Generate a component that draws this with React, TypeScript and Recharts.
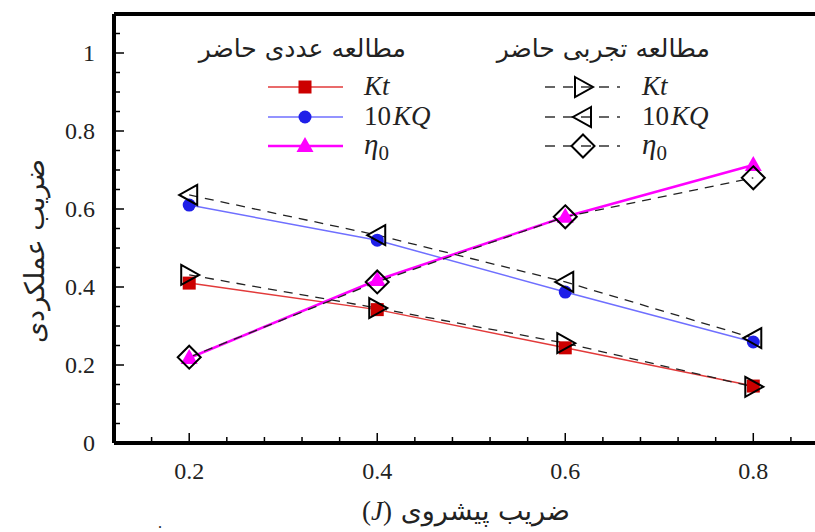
import React from 'react';
import { LineChart, Line, XAxis, YAxis, ReferenceLine, Customized } from 'recharts';

const advanceRatio = [0.2, 0.4, 0.6, 0.8];

// present numerical study
const ktNumerical = [0.41, 0.342, 0.244, 0.146];
const kq10Numerical = [0.61, 0.52, 0.387, 0.259];
const etaNumerical = [0.218, 0.418, 0.58, 0.713];

// present experimental study
const ktExperimental = [0.431, 0.346, 0.256, 0.144];
const kq10Experimental = [0.636, 0.533, 0.413, 0.269];
const etaExperimental = [0.22, 0.413, 0.58, 0.68];

const xTicks = [0.16, 0.2, 0.24, 0.28, 0.32, 0.36, 0.4, 0.44, 0.48, 0.52, 0.56, 0.6, 0.64, 0.68, 0.72, 0.76, 0.8, 0.84];
const xLabels = [0.2, 0.4, 0.6, 0.8];
const yTicks = [0, 0.05, 0.1, 0.15, 0.2, 0.25, 0.3, 0.35, 0.4, 0.45, 0.5, 0.55, 0.6, 0.65, 0.7, 0.75, 0.8, 0.85, 0.9, 0.95, 1, 1.05];
const yLabels = [0, 0.2, 0.4, 0.6, 0.8, 1];

const xTitle = 'ضریب پیشروی';
const yTitle = 'ضریب عملکردی';
const numericalTitle = 'مطالعه عددی حاضر';
const experimentalTitle = 'مطالعه تجربی حاضر';

const data = advanceRatio.map((j, i) => ({
  j,
  ktNum: ktNumerical[i],
  kqNum: kq10Numerical[i],
  etaNum: etaNumerical[i],
  ktExp: ktExperimental[i],
  kqExp: kq10Experimental[i],
  etaExp: etaExperimental[i],
}));

const SERIF = '"Liberation Serif", "Times New Roman", serif';
const ARABIC = '"DejaVu Sans", "Noto Sans", sans-serif';

const RED = '#e23a3a';
const RED_MARK = '#cc0000';
const BLUE = '#6f6fff';
const BLUE_MARK = '#1f1fe8';
const MAGENTA = '#ff00ff';

const isLabel = (v: number, labels: number[]) => labels.some((l) => Math.abs(l - v) < 1e-6);

// markers
const Square = ({ cx, cy }: any) => <rect x={cx - 6.5} y={cy - 6.5} width={13} height={13} fill={RED_MARK} />;
const Circle = ({ cx, cy }: any) => <circle cx={cx} cy={cy} r={6.5} fill={BLUE_MARK} />;
const TriUp = ({ cx, cy }: any) => (
  <path d={`M${cx},${cy - 9}L${cx + 8.5},${cy + 6}L${cx - 8.5},${cy + 6}Z`} fill={MAGENTA} />
);
const TriRight = ({ cx, cy }: any) => (
  <path d={`M${cx - 8},${cy - 10}L${cx + 10},${cy}L${cx - 8},${cy + 10}Z`} fill="none" stroke="#000" strokeWidth={2} />
);
const TriLeft = ({ cx, cy }: any) => (
  <path d={`M${cx + 8},${cy - 10}L${cx - 10},${cy}L${cx + 8},${cy + 10}Z`} fill="none" stroke="#000" strokeWidth={2} />
);
const Diamond = ({ cx, cy }: any) => (
  <path d={`M${cx},${cy - 11.5}L${cx + 11.5},${cy}L${cx},${cy + 11.5}L${cx - 11.5},${cy}Z`} fill="none" stroke="#000" strokeWidth={2} />
);

const dotOf = (Shape: any) => (p: any) => <Shape key={`${p.dataKey}-${p.index}`} cx={p.cx} cy={p.cy} />;

const XTick = ({ x, y, payload }: any) => {
  const major = isLabel(payload.value, xLabels);
  return (
    <g>
      <line x1={x} x2={x} y1={y} y2={y - (major ? 10 : 6)} stroke="#000" strokeWidth={1.5} />
      {major && (
        <text x={x} y={y + 36} textAnchor="middle" fontFamily={SERIF} fontSize={24} fill="#222">
          {payload.value}
        </text>
      )}
    </g>
  );
};

const YTick = ({ x, y, payload }: any) => {
  const major = isLabel(payload.value, yLabels);
  return (
    <g>
      {payload.value > 0 && (
        <line x1={x} x2={x + (major ? 10 : 6)} y1={y} y2={y} stroke="#000" strokeWidth={1.5} />
      )}
      {major && (
        <text x={x - 19} y={y + 8} textAnchor="end" fontFamily={SERIF} fontSize={24} fill="#222">
          {payload.value}
        </text>
      )}
    </g>
  );
};

const MathLabel = ({ x, y, kind }: { x: number; y: number; kind: string }) => {
  if (kind === 'kt')
    return (
      <text x={x} y={y} fontFamily={SERIF} fontSize={27} fontStyle="italic" fill="#222">
        Kt
      </text>
    );
  if (kind === 'kq')
    return (
      <text x={x} y={y} fontFamily={SERIF} fontSize={27} fill="#222">
        10<tspan fontStyle="italic" dx={2}>KQ</tspan>
      </text>
    );
  return (
    <text x={x} y={y} fontFamily={SERIF} fontSize={29} fill="#222">
      <tspan fontStyle="italic">η</tspan>
      <tspan fontSize={21} dy={6}>0</tspan>
    </text>
  );
};

const LegendBlock = () => {
  const rows = [87, 117, 146];
  const kinds = ['kt', 'kq', 'eta'];
  const solid = [
    { color: RED, width: 1.5, Shape: Square },
    { color: BLUE, width: 1.5, Shape: Circle },
    { color: MAGENTA, width: 2.5, Shape: TriUp },
  ];
  const hollow = [TriRight, TriLeft, Diamond];
  return (
    <g>
      <text x={406} y={57} textAnchor="end" fontFamily={ARABIC} fontSize={25} fill="#222">
        {numericalTitle}
      </text>
      <text x={710} y={57} textAnchor="end" fontFamily={ARABIC} fontSize={25} fill="#222">
        {experimentalTitle}
      </text>
      {rows.map((ry, i) => {
        const S = solid[i];
        const H = hollow[i];
        return (
          <g key={i}>
            <line x1={268} x2={343} y1={ry} y2={ry} stroke={S.color} strokeWidth={S.width} />
            <S.Shape cx={305} cy={ry} />
            <MathLabel x={364} y={ry + 8} kind={kinds[i]} />
            <line x1={545} x2={620} y1={ry} y2={ry} stroke="#333" strokeWidth={1.5} strokeDasharray="10 8" />
            <H cx={583} cy={ry} />
            <MathLabel x={642} y={ry + 8} kind={kinds[i]} />
          </g>
        );
      })}
    </g>
  );
};

const Titles = () => (
  <g>
    <text x={466} y={520} textAnchor="middle" fontFamily={ARABIC} fontSize={27} fill="#222">
      <tspan fontFamily={SERIF}>(</tspan>
      <tspan fontFamily={SERIF} fontStyle="italic">J</tspan>
      <tspan fontFamily={SERIF}>)</tspan> {xTitle}
    </text>
    <text
      x={0}
      y={0}
      transform="translate(44,251) rotate(-90)"
      textAnchor="middle"
      fontFamily={ARABIC}
      fontSize={27}
      fill="#222"
    >
      {yTitle}
    </text>
    <text x={160} y={528} textAnchor="middle" fontFamily={SERIF} fontSize={16} fill="#222">
      .
    </text>
  </g>
);

export default function App() {
  return (
    <div style={{ position: 'absolute', left: 0, top: 0, width: 815, height: 532, overflow: 'hidden', background: '#fff' }}>
      <LineChart width={850} height={532} data={data} margin={{ top: 14, right: 21.5, bottom: 59, left: 54 }}>
        <XAxis
          dataKey="j"
          type="number"
          domain={[0.12, 0.88]}
          ticks={xTicks}
          interval={0}
          height={30}
          tickSize={0}
          tickMargin={0}
          tickLine={false}
          axisLine={{ stroke: '#000', strokeWidth: 4 }}
          tick={<XTick />}
          allowDataOverflow
        />
        <YAxis
          type="number"
          domain={[0, 1.1]}
          ticks={yTicks}
          interval={0}
          width={60}
          tickSize={0}
          tickMargin={0}
          tickLine={false}
          axisLine={{ stroke: '#000', strokeWidth: 4 }}
          tick={<YTick />}
          allowDataOverflow
        />
        <ReferenceLine y={1.1} stroke="#000" strokeWidth={4} />
        <ReferenceLine x={0.88} stroke="#000" strokeWidth={4} />

        <Line dataKey="ktNum" stroke={RED} strokeWidth={1.5} dot={dotOf(Square)} activeDot={false} isAnimationActive={false} />
        <Line dataKey="kqNum" stroke={BLUE} strokeWidth={1.5} dot={dotOf(Circle)} activeDot={false} isAnimationActive={false} />
        <Line dataKey="etaNum" stroke={MAGENTA} strokeWidth={2.5} dot={dotOf(TriUp)} activeDot={false} isAnimationActive={false} />

        <Line dataKey="ktExp" stroke="#222" strokeWidth={1.3} strokeDasharray="9 7" dot={dotOf(TriRight)} activeDot={false} isAnimationActive={false} />
        <Line dataKey="kqExp" stroke="#222" strokeWidth={1.3} strokeDasharray="9 7" dot={dotOf(TriLeft)} activeDot={false} isAnimationActive={false} />
        <Line dataKey="etaExp" stroke="#222" strokeWidth={1.3} strokeDasharray="9 7" dot={dotOf(Diamond)} activeDot={false} isAnimationActive={false} />

        <Customized component={LegendBlock} />
        <Customized component={Titles} />
      </LineChart>
    </div>
  );
}
